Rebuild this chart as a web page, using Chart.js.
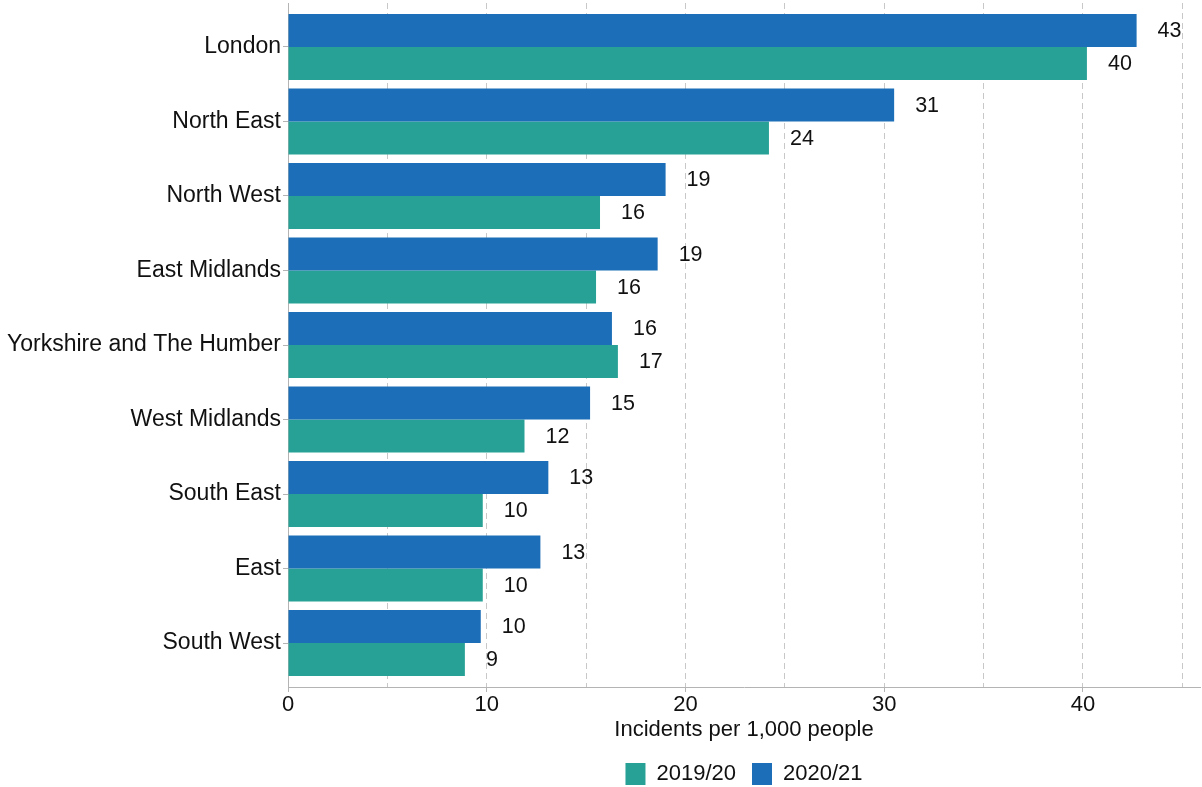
<!DOCTYPE html>
<html>
<head>
<meta charset="utf-8">
<title>Incidents per 1,000 people by region</title>
<script src="https://cdn.jsdelivr.net/npm/chart.js@4.4.1/dist/chart.umd.min.js"></script>
<style>
    html, body { margin: 0; padding: 0; background: #fff; }
</style>
</head>
<body>
<canvas id="myChart01" width="1202" height="787"></canvas>
<script>
// datos
const regiones = ['London', 'North East', 'North West', 'East Midlands', 'Yorkshire and The Humber',
    'West Midlands', 'South East', 'East', 'South West'];
const tasa2021 = [42.7, 30.5, 19.0, 18.6, 16.3, 15.2, 13.1, 12.7, 9.7];
const tasa1920 = [40.2, 24.2, 15.7, 15.5, 16.6, 11.9, 9.8, 9.8, 8.9];
const periodos = ['2020/21', '2019/20'];
const ticksX = [0, 10, 20, 30, 40];

const fuente = '"Liberation Sans", Arial, sans-serif';
const colorTexto = '#111111';
const colorEje = '#b4b4b4';

Chart.defaults.font.family = fuente;
Chart.defaults.color = colorTexto;

// etiquetas de valor al final de cada barra
const etiquetasValor = {
    id: 'etiquetasValor',
    afterDatasetsDraw(chart) {
        const ctx = chart.ctx;
        ctx.save();
        ctx.font = '21.5px ' + fuente;
        ctx.fillStyle = colorTexto;
        ctx.textAlign = 'left';
        ctx.textBaseline = 'middle';
        chart.data.datasets.forEach((ds, di) => {
            chart.getDatasetMeta(di).data.forEach((bar, i) => {
                ctx.fillText(Math.round(ds.data[i].x), bar.x + 21, bar.y + 1);
            });
        });
        ctx.restore();
    }
};

const datos1 = {
    label: periodos[0],
    data: tasa2021.map((v, i) => ({ x: v, y: i })),
    backgroundColor: '#1d6eb8',
    borderWidth: 0
};

const datos2 = {
    label: periodos[1],
    data: tasa1920.map((v, i) => ({ x: v, y: i })),
    backgroundColor: '#27a196',
    borderWidth: 0
};

const grafica = document.querySelector('#myChart01');

new Chart(grafica, {
    type: 'bar',
    data: {
        datasets: [datos1, datos2]
    },
    plugins: [etiquetasValor],
    options: {
        responsive: false,
        animation: false,
        indexAxis: 'y',
        categoryPercentage: 0.886,
        barPercentage: 1,
        layout: {
            padding: { top: 3, right: 2, bottom: -8, left: 0 }
        },
        scales: {
            x: {
                type: 'linear',
                min: 0,
                max: 45.89,
                afterBuildTicks: (s) => {
                    const t = [];
                    for (let v = 0; v <= 45; v += 5) t.push({ value: v });
                    s.ticks = t;
                },
                afterFit: (s) => { s.height = 60; },
                ticks: {
                    autoSkip: false,
                    maxRotation: 0,
                    padding: 0,
                    font: { size: 22 },
                    color: colorTexto,
                    callback: (v) => ticksX.includes(v) ? v : ''
                },
                grid: {
                    color: '#c8c8c8',
                    tickLength: 5,
                    tickColor: (c) => (c.tick && ticksX.includes(c.tick.value)) ? colorEje : 'rgba(0,0,0,0)'
                },
                border: {
                    color: colorEje,
                    dash: [6, 4]
                },
                title: {
                    display: true,
                    text: 'Incidents per 1,000 people',
                    font: { size: 22 },
                    color: colorTexto,
                    padding: { top: 0, bottom: 4 }
                }
            },
            y: {
                type: 'linear',
                reverse: true,
                offset: false,
                min: -0.59,
                max: 8.59,
                afterBuildTicks: (s) => {
                    s.ticks = regiones.map((r, i) => ({ value: i }));
                },
                afterFit: (s) => {
                    s.width = 288;
                    s.paddingTop = 0;
                    s.paddingBottom = 0;
                },
                ticks: {
                    autoSkip: false,
                    padding: 2,
                    font: { size: 23 },
                    color: colorTexto,
                    callback: (v) => regiones[v]
                },
                grid: {
                    offset: false,
                    drawOnChartArea: false,
                    tickLength: 5,
                    color: colorEje
                },
                border: {
                    color: colorEje
                }
            }
        },
        plugins: {
            legend: {
                position: 'bottom',
                fullSize: false,
                reverse: true,
                labels: {
                    boxWidth: 20,
                    boxHeight: 22,
                    padding: 16,
                    font: { size: 22 },
                    color: colorTexto
                }
            },
            tooltip: { enabled: false },
            title: { display: false }
        }
    }
});
</script>
</body>
</html>
